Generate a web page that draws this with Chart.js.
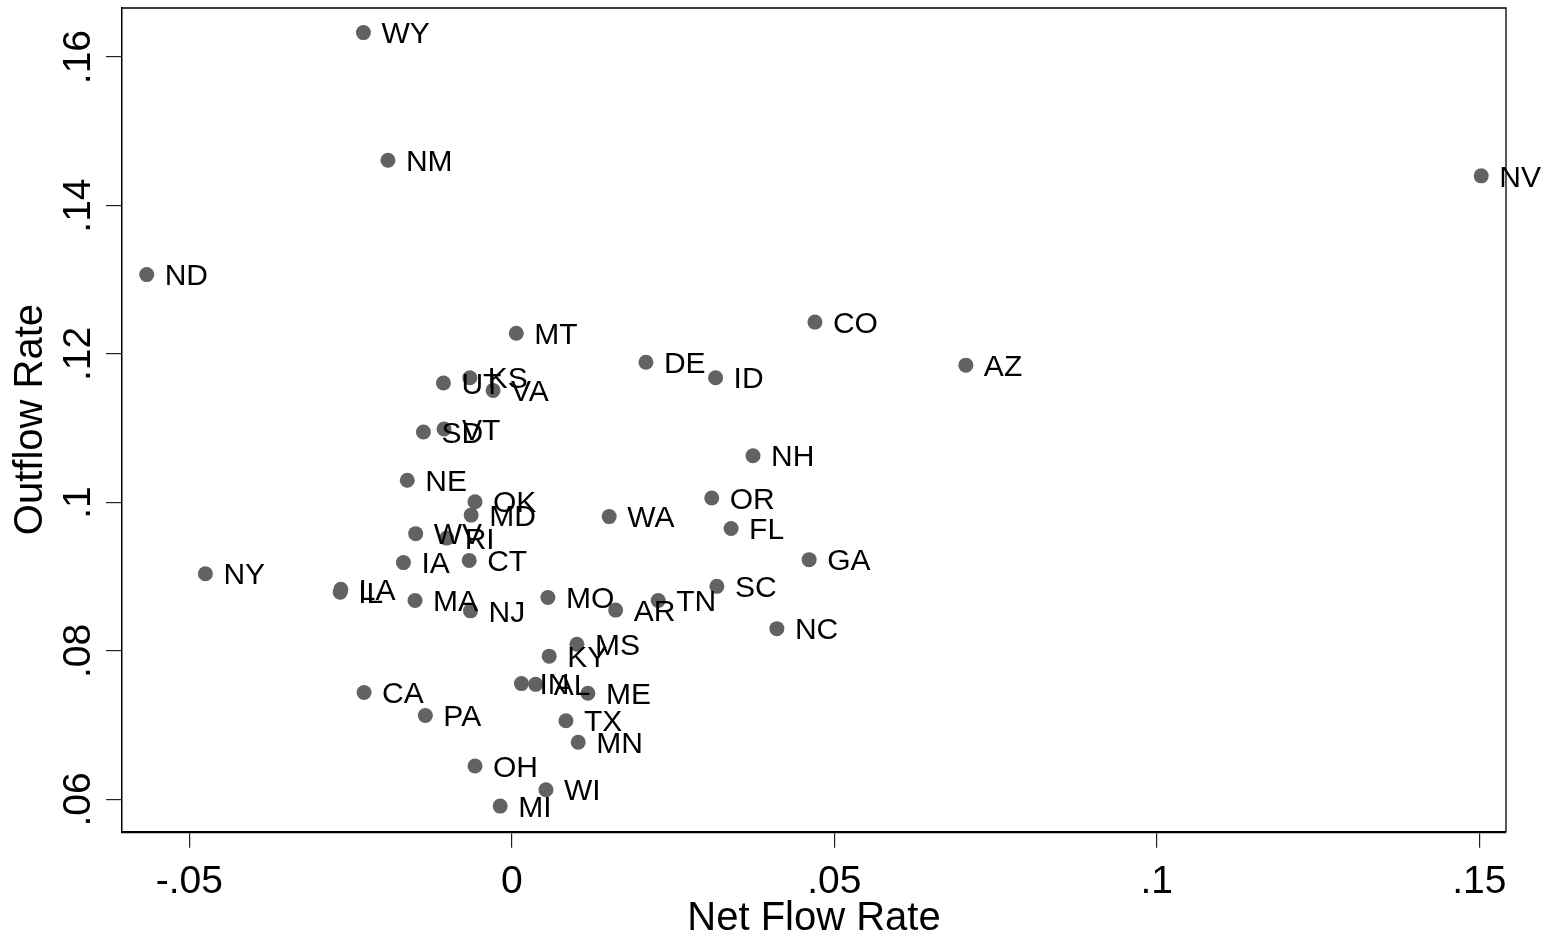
<!DOCTYPE html>
<html><head><meta charset="utf-8">
<script src="https://cdn.jsdelivr.net/npm/chart.js@4"></script>
<style>html,body{margin:0;padding:0;background:#fff;}#wrap{width:1549px;height:939px;position:relative;}</style>
</head><body><div id="wrap"><canvas id="c"></canvas></div>
<script>
const states = ['WY','NM','ND','NV','AZ','CO','MT','DE','ID','NH','OR','WA','FL','GA','UT','KS','VA','SD','VT','NE','OK','MD','WV','RI','IA','CT','NY','IL','LA','MA','NJ','MO','AR','TN','SC','NC','MS','KY','IN','AL','ME','TX','MN','OH','WI','MI','CA','PA'];
const netFlowRate = [-0.0230,-0.0192,-0.0566,0.1503,0.0704,0.0470,0.0007,0.0208,0.0316,0.0374,0.0310,0.0151,0.0340,0.0461,-0.0106,-0.0065,-0.0029,-0.0137,-0.0105,-0.0162,-0.0057,-0.0063,-0.0149,-0.0101,-0.0168,-0.0066,-0.0475,-0.0266,-0.0265,-0.0150,-0.0064,0.0056,0.0161,0.0227,0.0318,0.0411,0.0101,0.0058,0.0015,0.0037,0.0118,0.0084,0.0103,-0.0057,0.0053,-0.0018,-0.0229,-0.0134];
const outflowRate = [0.1633,0.1461,0.1307,0.1440,0.1185,0.1243,0.1228,0.1189,0.1168,0.1063,0.1006,0.0981,0.0965,0.0923,0.1161,0.1168,0.1151,0.1095,0.1099,0.1030,0.1001,0.0983,0.0958,0.0952,0.0919,0.0922,0.0904,0.0879,0.0883,0.0868,0.0854,0.0872,0.0855,0.0868,0.0887,0.0830,0.0809,0.0793,0.0756,0.0755,0.0743,0.0706,0.0677,0.0645,0.0613,0.0591,0.0744,0.0713];
const xTickValues = [-0.05, 0, 0.05, 0.1, 0.15];
const xTickLabels = ['-.05', '0', '.05', '.1', '.15'];
const yTickValues = [0.06, 0.08, 0.1, 0.12, 0.14, 0.16];
const yTickLabels = ['.06', '.08', '.1', '.12', '.14', '.16'];
const xTitle = 'Net Flow Rate';
const yTitle = 'Outflow Rate';

const FONT = "'Liberation Sans', Arial, Helvetica, sans-serif";
Chart.defaults.font.family = FONT;
Chart.defaults.color = '#000';

const points = states.map((s, i) => ({x: netFlowRate[i], y: outflowRate[i]}));

const decor = {
  id: 'decor',
  afterDatasetsDraw(chart) {
    const ctx = chart.ctx;
    const meta = chart.getDatasetMeta(0);
    ctx.save();
    ctx.fillStyle = '#000';
    ctx.font = '30px ' + FONT;
    ctx.textAlign = 'left';
    ctx.textBaseline = 'alphabetic';
    meta.data.forEach((el, i) => {
      ctx.fillText(states[i], el.x + 18, el.y + 10.7);
    });
    ctx.restore();
  },
  afterDraw(chart) {
    const ctx = chart.ctx;
    const a = chart.chartArea;
    ctx.save();
    ctx.strokeStyle = '#000';
    ctx.lineWidth = 1.3;
    ctx.beginPath();
    ctx.moveTo(a.left, a.top + 0.5);
    ctx.lineTo(a.right, a.top + 0.5);
    ctx.lineTo(a.right, a.bottom);
    ctx.stroke();
    // rotated y tick labels
    const ys = chart.scales.y;
    ctx.fillStyle = '#000';
    ctx.font = '39px ' + FONT;
    ctx.textAlign = 'center';
    ctx.textBaseline = 'alphabetic';
    yTickValues.forEach((v, i) => {
      const py = ys.getPixelForValue(v);
      ctx.save();
      ctx.translate(90, py);
      ctx.rotate(-Math.PI / 2);
      ctx.fillText(yTickLabels[i], 0, 0);
      ctx.restore();
    });
    ctx.restore();
  }
};

new Chart(document.getElementById('c'), {
  type: 'scatter',
  data: {
    datasets: [{
      data: points,
      pointRadius: 7.5,
      pointHoverRadius: 7.5,
      pointBackgroundColor: '#626262',
      pointBorderWidth: 0,
      borderWidth: 0
    }]
  },
  options: {
    responsive: true,
    maintainAspectRatio: false,
    animation: false,
    events: [],
    layout: {padding: {top: 5, right: 43, bottom: 0, left: 0}},
    plugins: {legend: {display: false}, tooltip: {enabled: false}},
    scales: {
      x: {
        type: 'linear',
        min: -0.06043,
        max: 0.15414,
        afterBuildTicks: s => { s.ticks = xTickValues.map(v => ({value: v})); },
        afterFit: s => { s.height = 107.3; },
        ticks: {
          callback: (v, i) => xTickLabels[i],
          font: {size: 39},
          color: '#000',
          padding: 11,
          maxRotation: 0,
          minRotation: 0
        },
        grid: {drawOnChartArea: false, drawTicks: true, tickLength: 16, color: '#222', lineWidth: 1.2},
        border: {display: true, color: '#000', width: 2.2},
        title: {display: true, text: xTitle, font: {size: 40, lineHeight: 1}, color: '#000', padding: {top: 0, bottom: 0}}
      },
      y: {
        type: 'linear',
        min: 0.05565,
        max: 0.16668,
        afterBuildTicks: s => { s.ticks = yTickValues.map(v => ({value: v})); },
        afterFit: s => { s.width = 122; },
        ticks: {display: false},
        grid: {drawOnChartArea: false, drawTicks: true, tickLength: 16, color: '#222', lineWidth: 1.2},
        border: {display: true, color: '#000', width: 1.5},
        title: {display: true, text: yTitle, font: {size: 40, lineHeight: 1}, color: '#000', padding: {top: 11, bottom: 0}}
      }
    }
  },
  plugins: [decor]
});
</script>
</body></html>
